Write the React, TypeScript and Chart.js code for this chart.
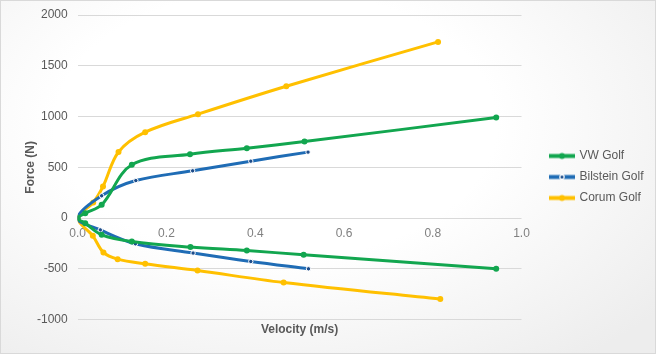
import React, { useEffect, useRef } from "react";
import { Chart, registerables } from "chart.js";

Chart.register(...registerables);

// ---- Data ----
const seriesNames = ["VW Golf", "Bilstein Golf", "Corum Golf"];

const vwX = [0.943, 0.509, 0.381, 0.254, 0.122, 0.054, 0.017, 0, 0.017, 0.054, 0.122, 0.253, 0.381, 0.511, 0.943];
const vwY = [-499, -361, -319, -285, -230, -164, -50, 0, 49, 131, 525, 630, 689, 754, 990];

const bilX = [0.52, 0.39, 0.26, 0.13, 0.051, 0, 0.054, 0.131, 0.259, 0.39, 0.519];
const bilY = [-499, -427, -344, -253, -116, 0, 220, 370, 466, 561, 650];

const corX = [0.817, 0.464, 0.27, 0.152, 0.09, 0.058, 0.034, 0, 0.035, 0.057, 0.092, 0.152, 0.271, 0.47, 0.812];
const corY = [-797, -634, -516, -450, -404, -338, -174, 0, 154, 311, 651, 846, 1024, 1299, 1735];

const xTickStep = 0.2;
const yTickStep = 500;

const GREEN = "#12a64f";
const BLUE = "#1f6cb5";
const BLUE_DOT = "#1d4c8a";
const GOLD = "#ffc000";
const TEXT = "#595959";

const toPoints = (xs: number[], ys: number[]) => xs.map((x, i) => ({ x, y: ys[i] }));

function legendImage(color: string, dot: string, white: boolean) {
  const c = document.createElement("canvas");
  c.width = 26;
  c.height = 9;
  const ctx = c.getContext("2d")!;
  ctx.strokeStyle = color;
  ctx.lineWidth = 4;
  ctx.beginPath();
  ctx.moveTo(0, 4.5);
  ctx.lineTo(26, 4.5);
  ctx.stroke();
  ctx.beginPath();
  ctx.arc(13, 4.5, white ? 2.2 : 3, 0, Math.PI * 2);
  ctx.fillStyle = dot;
  ctx.fill();
  if (white) {
    ctx.lineWidth = 1.2;
    ctx.strokeStyle = "#ffffff";
    ctx.stroke();
  }
  return c;
}

export default function App() {
  const ref = useRef<HTMLCanvasElement | null>(null);

  useEffect(() => {
    document.body.style.margin = "0";
    const imgs = [
      legendImage(GREEN, GREEN, false),
      legendImage(BLUE, BLUE_DOT, true),
      legendImage(GOLD, GOLD, false),
    ];
    const colors = [GREEN, BLUE, GOLD];
    const chart = new Chart(ref.current!, {
      type: "scatter",
      data: {
        datasets: [
          {
            label: seriesNames[0],
            data: toPoints(vwX, vwY),
            showLine: true,
            borderColor: GREEN,
            backgroundColor: GREEN,
            borderWidth: 3,
            pointRadius: 3,
            pointBorderWidth: 0,
            tension: 0.35,
          },
          {
            label: seriesNames[1],
            data: toPoints(bilX, bilY),
            showLine: true,
            borderColor: BLUE,
            backgroundColor: BLUE_DOT,
            pointBorderColor: "#ffffff",
            borderWidth: 3,
            pointRadius: 2.2,
            pointBorderWidth: 1,
            tension: 0.35,
          },
          {
            label: seriesNames[2],
            data: toPoints(corX, corY),
            showLine: true,
            borderColor: GOLD,
            backgroundColor: GOLD,
            borderWidth: 3,
            pointRadius: 3,
            pointBorderWidth: 0,
            tension: 0.35,
          },
        ],
      },
      options: {
        responsive: false,
        animation: false,
        layout: { padding: { left: 18, top: 14, bottom: 14, right: 9 } },
        font: { family: "'Liberation Sans', Arial, sans-serif", size: 12 },
        plugins: {
          tooltip: { enabled: false },
          legend: {
            position: "right",
            labels: {
              usePointStyle: true,
              pointStyleWidth: 23,
              color: TEXT,
              padding: 9,
              font: { family: "'Liberation Sans', Arial, sans-serif", size: 12 },
              generateLabels: (ch: any) =>
                ch.data.datasets.map((d: any, i: number) => ({
                  text: d.label,
                  fillStyle: colors[i],
                  strokeStyle: colors[i],
                  lineWidth: 0,
                  pointStyle: imgs[i],
                  hidden: false,
                  datasetIndex: i,
                  fontColor: TEXT,
                })),
            },
          },
        },
        scales: {
          x: {
            type: "linear",
            position: { y: 0 } as any,
            min: 0,
            max: 1,
            grid: { display: false, drawTicks: false },
            border: { display: false },
            ticks: {
              stepSize: xTickStep,
              padding: 8,
              color: "#808080",
              font: { family: "'Liberation Sans', Arial, sans-serif", size: 12 },
              callback: (v: any) => Number(v).toFixed(1),
            },
          },
          x2: {
            type: "linear",
            position: "bottom",
            min: 0,
            max: 1,
            grid: { display: false, drawTicks: false },
            border: { display: false },
            ticks: { display: false },
            title: {
              display: true,
              text: "Velocity (m/s)",
              color: TEXT,
              font: { family: "'Liberation Sans', Arial, sans-serif", size: 12, weight: "bold" },
              padding: { top: 0, bottom: 2 },
            },
            afterFit: (s: any) => {
              s.height = 19.3;
            },
          },
          y: {
            type: "linear",
            min: -1000,
            max: 2000,
            grid: {
              color: "#d9d9d9",
              drawTicks: true,
              tickLength: 4,
              tickColor: "rgba(0,0,0,0)",
              lineWidth: 1,
            },
            border: { display: false },
            ticks: {
              stepSize: yTickStep,
              padding: 6,
              color: TEXT,
              font: { family: "'Liberation Sans', Arial, sans-serif", size: 12 },
              callback: (v: any) => String(v),
            },
            title: {
              display: true,
              text: "Force (N)",
              color: TEXT,
              font: { family: "'Liberation Sans', Arial, sans-serif", size: 12, weight: "bold" },
            },
            afterFit: (s: any) => {
              s.width = 58.7;
            },
          },
          y2: {
            type: "linear",
            position: "right",
            grid: { display: false, drawTicks: false },
            border: { display: false },
            ticks: { display: false },
            afterFit: (s: any) => {
              s.width = 20;
            },
          },
        },
      } as any,
    });
    return () => chart.destroy();
  }, []);

  return (
    <div
      style={{
        position: "absolute",
        left: 0,
        top: 0,
        width: 656,
        height: 354,
        boxSizing: "border-box",
        border: "1px solid #d9d9d9",
        background: "radial-gradient(ellipse 75% 85% at 42% 35%, #ffffff 45%, #ededed 100%)",
      }}
    >
      <canvas ref={ref} width={654} height={352} style={{ display: "block", width: 654, height: 352 }} />
    </div>
  );
}
